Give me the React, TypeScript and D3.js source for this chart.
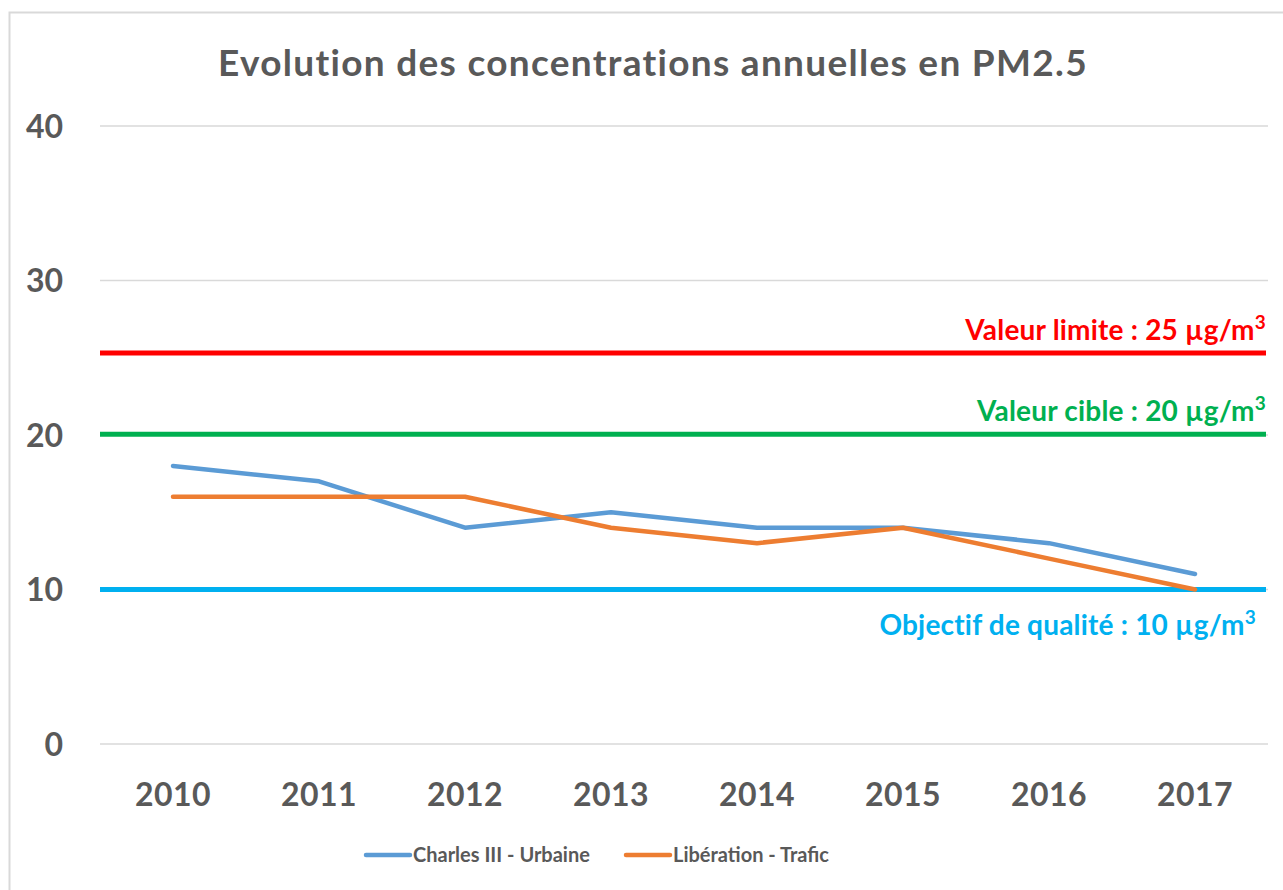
import React, { useEffect, useRef } from "react";
import * as d3 from "d3";

const years = ["2010", "2011", "2012", "2013", "2014", "2015", "2016", "2017"];
const charlesIII = [18, 17, 14, 15, 14, 14, 13, 11];
const liberation = [16, 16, 16, 14, 13, 14, 12, 10];
const yTicks = [0, 10, 20, 30, 40];

const thresholdValues = [25.3, 20.05, 10];
const thresholdLabels = [
  "Valeur limite : 25 µg/m",
  "Valeur cible : 20 µg/m",
  "Objectif de qualité : 10 µg/m",
];
const thresholdColors = ["#ff0000", "#00b050", "#00b0f0"];

const seriesNames = ["Charles III - Urbaine", "Libération - Trafic"];
const seriesColors = ["#5b9bd5", "#ed7d31"];

const W = 1283;
const H = 890;
const FONT = "Lato, 'Open Sans', sans-serif";

export default function App() {
  const svgRef = useRef<SVGSVGElement>(null);

  useEffect(() => {
    if (!svgRef.current) return;
    const svg = d3.select(svgRef.current);
    svg.selectAll("*").remove();

    const margin = { left: 100, right: 15, top: 126, bottom: 146 };
    const x = d3.scaleBand().domain(years).range([margin.left, W - margin.right]);
    const y = d3.scaleLinear().domain([0, 40]).range([H - margin.bottom, margin.top]);

    // frame
    svg.append("rect")
      .attr("x", 9.5).attr("y", 12.5)
      .attr("width", W).attr("height", H)
      .attr("fill", "#fff")
      .attr("stroke", "#d9d9d9")
      .attr("stroke-width", 2);

    // title
    svg.append("text")
      .attr("x", 653).attr("y", 76)
      .attr("text-anchor", "middle")
      .attr("font-family", FONT)
      .attr("font-weight", 700)
      .attr("font-size", 37)
      .attr("letter-spacing", 1.3)
      .attr("fill", "#595959")
      .text("Evolution des concentrations annuelles en PM2.5");

    // gridlines
    svg.append("g").selectAll("line")
      .data(yTicks)
      .join("line")
      .attr("x1", margin.left).attr("x2", W - margin.right)
      .attr("y1", (d) => y(d)).attr("y2", (d) => y(d))
      .attr("stroke", "#d9d9d9")
      .attr("stroke-width", 1.5);

    // y labels
    svg.append("g").selectAll("text")
      .data(yTicks)
      .join("text")
      .attr("x", 63).attr("y", (d) => y(d))
      .attr("dy", "0.36em")
      .attr("text-anchor", "end")
      .attr("font-family", FONT)
      .attr("font-weight", 700)
      .attr("font-size", 32)
      .attr("fill", "#595959")
      .text((d) => d);

    // x labels
    svg.append("g").selectAll("text")
      .data(years)
      .join("text")
      .attr("x", (d) => (x(d) || 0) + x.bandwidth() / 2)
      .attr("y", 794)
      .attr("dy", "0.36em")
      .attr("text-anchor", "middle")
      .attr("font-family", FONT)
      .attr("font-weight", 700)
      .attr("font-size", 32)
      .attr("letter-spacing", 0.5)
      .attr("fill", "#595959")
      .text((d) => d);

    // threshold lines
    const th = svg.append("g");
    thresholdValues.forEach((v, i) => {
      th.append("line")
        .attr("x1", margin.left).attr("x2", W - margin.right - 2)
        .attr("y1", y(v)).attr("y2", y(v))
        .attr("stroke", thresholdColors[i])
        .attr("stroke-width", 5);
      const below = i === 2;
      const t = th.append("text")
        .attr("x", below ? 1256 : 1266)
        .attr("y", below ? y(v) + 45 : y(v) - 13)
        .attr("text-anchor", "end")
        .attr("font-family", FONT)
        .attr("font-weight", 700)
        .attr("font-size", 28)
        .attr("letter-spacing", 0.2)
        .attr("fill", thresholdColors[i]);
      t.append("tspan").text(thresholdLabels[i]);
      t.append("tspan")
        .attr("font-size", 19)
        .attr("dy", -11)
        .text("3");
    });

    // series lines
    const line = d3.line<number>()
      .x((_d, i) => (x(years[i]) || 0) + x.bandwidth() / 2)
      .y((d) => y(d));

    [charlesIII, liberation].forEach((s, i) => {
      svg.append("path")
        .datum(s)
        .attr("d", line)
        .attr("fill", "none")
        .attr("stroke", seriesColors[i])
        .attr("stroke-width", 4.5)
        .attr("stroke-linejoin", "round")
        .attr("stroke-linecap", "round");
    });

    // legend
    const legendX = [366, 626];
    seriesNames.forEach((name, i) => {
      const g = svg.append("g").attr("transform", `translate(${legendX[i]},855)`);
      g.append("line")
        .attr("x1", 0).attr("x2", 44)
        .attr("stroke", seriesColors[i])
        .attr("stroke-width", 4.5)
        .attr("stroke-linecap", "round");
      g.append("text")
        .attr("x", 47)
        .attr("dy", "0.36em")
        .attr("font-family", FONT)
        .attr("font-weight", 700)
        .attr("font-size", 20)
        .attr("fill", "#595959")
        .text(name);
    });
  }, []);

  return (
    <svg
      ref={svgRef}
      width={W}
      height={H}
      style={{ position: "absolute", left: 0, top: 0, display: "block", background: "#fff" }}
    />
  );
}
